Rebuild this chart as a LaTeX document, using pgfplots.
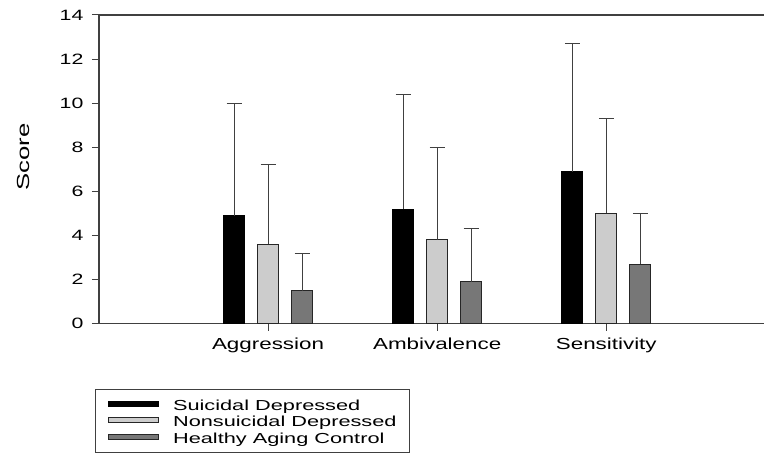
\documentclass[border=0pt]{standalone}
\usepackage{fontspec}
\setmainfont{Liberation Sans}
\usepackage{graphicx}
\usepackage{pgfplots}
\pgfplotsset{compat=1.18}
\definecolor{axgray}{HTML}{404040}
\definecolor{lightbar}{HTML}{CCCCCC}
\definecolor{darkbar}{HTML}{777777}
\begin{document}
\begin{tikzpicture}
\path (-99pt,-130pt) rectangle (666pt,324pt);
\begin{axis}[
  scale only axis, width=666pt, height=309pt,
  at={(0,0)}, anchor=south west,
  xmin=0, xmax=3.935, ymin=0, ymax=14,
  axis lines=left,
  axis line style={-, line width=1.2pt, axgray},
  ybar=13pt, bar width=21pt,
  legend image code/.code={\draw[#1] (0pt,-2pt) rectangle (50pt,3pt);},
  xtick={1,2,3},
  xticklabels={\scalebox{1.4}[1]{Aggression},\scalebox{1.4}[1]{Ambivalence},\scalebox{1.4}[1]{Sensitivity}},
  ytick={0,2,4,6,8,10,12,14},
  yticklabel={\scalebox{1.42}[1]{\pgfmathprintnumber{\tick}}},
  /pgf/number format/assume math mode=true,
  tick align=outside, major tick length=7pt,
  tick style={line width=1pt, axgray},
  x tick label style={font=\fontsize{16}{19}\selectfont, yshift=-3.5pt},
  y tick label style={font=\fontsize{15}{18}\selectfont, xshift=-5pt},
  ylabel={\scalebox{1.47}[1]{Score}},
  ylabel style={font=\fontsize{17.5}{20}\selectfont, at={(axis description cs:-0.1141,0.5405)}, anchor=center},
  legend style={at={(axis description cs:-0.006,-0.2104)}, anchor=north west,
    draw=axgray, line width=1pt, inner xsep=13pt, inner ysep=6.75pt,
    row sep=0pt, column sep=13.7pt,
    font=\fontsize{14.5}{17}\selectfont,
    nodes={inner sep=0pt, text height=14.45pt, text depth=2.05pt}},
  legend cell align=left,
  error bars/y dir=plus, error bars/y explicit,
  error bars/error mark=|,
  error bars/error bar style={line width=1pt, axgray},
  error bars/error mark options={mark size=7.5pt, line width=1pt, axgray},
]
\addplot[fill=black, draw=black, line width=1pt] coordinates {(1,4.9) +- (0,5.1) (2,5.2) +- (0,5.2) (3,6.9) +- (0,5.8)};
\addlegendentry{\scalebox{1.5}[1]{Suicidal Depressed}}
\addplot[fill=lightbar, draw=black!85, line width=1pt] coordinates {(1,3.6) +- (0,3.6) (2,3.8) +- (0,4.2) (3,5.0) +- (0,4.3)};
\addlegendentry{\scalebox{1.5}[1]{Nonsuicidal Depressed}}
\addplot[fill=darkbar, draw=black!85, line width=1pt] coordinates {(1,1.5) +- (0,1.7) (2,1.9) +- (0,2.4) (3,2.7) +- (0,2.3)};
\addlegendentry{\scalebox{1.5}[1]{Healthy Aging Control}}
\draw[axgray, line width=1.2pt] (rel axis cs:0,1) -- (rel axis cs:1,1);
\end{axis}
\end{tikzpicture}
\end{document}
